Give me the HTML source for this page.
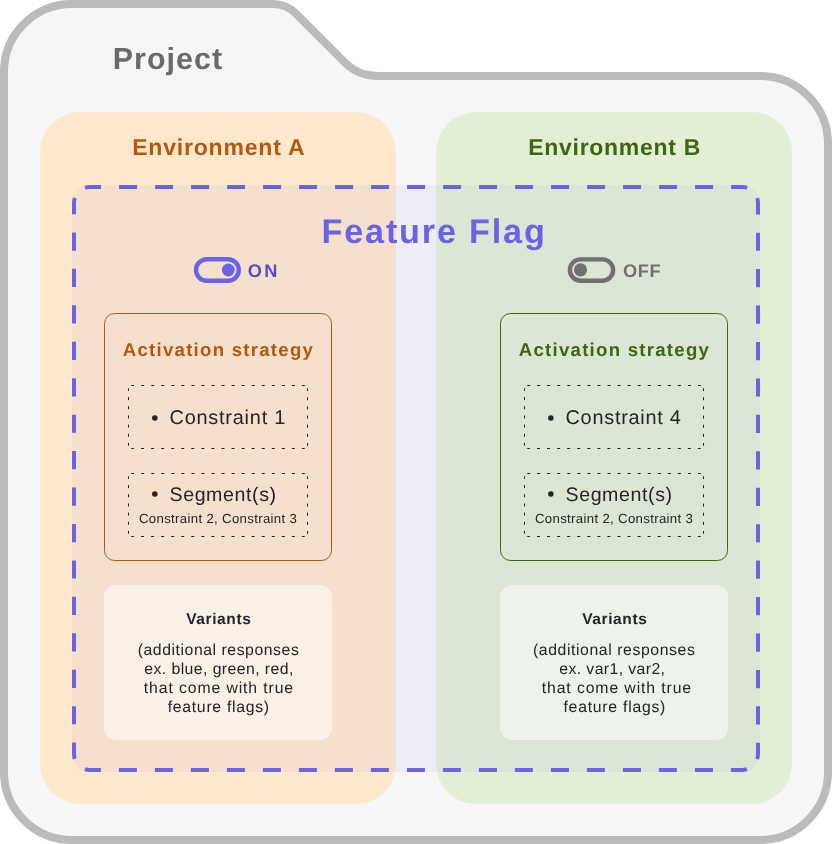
<!DOCTYPE html>
<html><head><meta charset="utf-8"><title>Feature flag diagram</title><style>
html,body{margin:0;padding:0;background:#fff;width:832px;height:844px;overflow:hidden}
svg{display:block;will-change:transform}
text{font-family:"Liberation Sans", sans-serif;white-space:pre;text-rendering:geometricPrecision}
</style></head><body>
<svg width="832" height="844" viewBox="0 0 832 844">
<path d="M4 72 A68 68 0 0 1 72 4 H273.05 A32 32 0 0 1 295.67 13.37 L344.83 62.53 A46 46 0 0 0 377.35 76 H760 A68 68 0 0 1 828 144 V772 A68 68 0 0 1 760 840 H72 A68 68 0 0 1 4 772 Z" fill="#f6f6f9" stroke="#bbbbbd" stroke-width="8"/>
<rect x="40" y="112" width="356" height="692" rx="40" fill="#fde8cc"/>
<rect x="436" y="112" width="356" height="692" rx="40" fill="#e3efd5"/>
<rect x="72" y="185" width="688" height="587" rx="18" fill="#6c63e4" fill-opacity="0.06"/>
<path d="M78.69 191.69 A16 16 0 0 1 90 187 H742 A16 16 0 0 1 753.31 191.69" fill="none" stroke="#6c63e4" stroke-width="4" stroke-dasharray="0.00 7.48 16.09 18.00 18.00 18.00 18.00 18.00 18.00 18.00 18.00 18.00 18.00 18.00 18.00 18.00 18.00 18.00 18.00 18.00 18.00 18.00 18.00 18.00 18.00 18.00 18.00 18.00 18.00 18.00 18.00 18.00 18.00 18.00 18.00 18.00 18.00 18.00 16.09 1000.00"/>
<path d="M753.31 191.69 A16 16 0 0 1 758 203 V754 A16 16 0 0 1 753.31 765.31" fill="none" stroke="#6c63e4" stroke-width="4" stroke-dasharray="0.00 7.48 16.41 18.22 18.22 18.22 18.22 18.22 18.22 18.22 18.22 18.22 18.22 18.22 18.22 18.22 18.22 18.22 18.22 18.22 18.22 18.22 18.22 18.22 18.22 18.22 18.22 18.22 18.22 18.22 18.22 18.22 16.41 1000.00"/>
<path d="M753.31 765.31 A16 16 0 0 1 742 770 H90 A16 16 0 0 1 78.69 765.31" fill="none" stroke="#6c63e4" stroke-width="4" stroke-dasharray="0.00 7.48 16.09 18.00 18.00 18.00 18.00 18.00 18.00 18.00 18.00 18.00 18.00 18.00 18.00 18.00 18.00 18.00 18.00 18.00 18.00 18.00 18.00 18.00 18.00 18.00 18.00 18.00 18.00 18.00 18.00 18.00 18.00 18.00 18.00 18.00 18.00 18.00 16.09 1000.00"/>
<path d="M78.69 765.31 A16 16 0 0 1 74 754 V203 A16 16 0 0 1 78.69 191.69" fill="none" stroke="#6c63e4" stroke-width="4" stroke-dasharray="0.00 7.48 16.41 18.22 18.22 18.22 18.22 18.22 18.22 18.22 18.22 18.22 18.22 18.22 18.22 18.22 18.22 18.22 18.22 18.22 18.22 18.22 18.22 18.22 18.22 18.22 18.22 18.22 18.22 18.22 18.22 18.22 16.41 1000.00"/>
<rect x="104.5" y="313.5" width="227" height="247" rx="10" fill="none" stroke="#b5570f" stroke-width="1"/>
<rect x="500.5" y="313.5" width="227" height="247" rx="10" fill="none" stroke="#3e6611" stroke-width="1"/>
<path d="M129.38 386.38 A3 3 0 0 1 131.5 385.5 H304.5 A3 3 0 0 1 306.62 386.38" fill="none" stroke="#242427" stroke-width="1" stroke-dasharray="0.00 1.85 3.00 7.06 3.00 7.06 3.00 7.06 3.00 7.06 3.00 7.06 3.00 7.06 3.00 7.06 3.00 7.06 3.00 7.06 3.00 7.06 3.00 7.06 3.00 7.06 3.00 7.06 3.00 7.06 3.00 7.06 3.00 7.06 3.00 7.06 3.00 1000.00"/>
<path d="M306.62 386.38 A3 3 0 0 1 307.5 388.5 V445.5 A3 3 0 0 1 306.62 447.62" fill="none" stroke="#242427" stroke-width="1" stroke-dasharray="0.00 1.85 3.00 6.17 3.00 6.17 3.00 6.17 3.00 6.17 3.00 6.17 3.00 6.17 3.00 1000.00"/>
<path d="M306.62 447.62 A3 3 0 0 1 304.5 448.5 H131.5 A3 3 0 0 1 129.38 447.62" fill="none" stroke="#242427" stroke-width="1" stroke-dasharray="0.00 1.85 3.00 7.06 3.00 7.06 3.00 7.06 3.00 7.06 3.00 7.06 3.00 7.06 3.00 7.06 3.00 7.06 3.00 7.06 3.00 7.06 3.00 7.06 3.00 7.06 3.00 7.06 3.00 7.06 3.00 7.06 3.00 7.06 3.00 7.06 3.00 1000.00"/>
<path d="M129.38 447.62 A3 3 0 0 1 128.5 445.5 V388.5 A3 3 0 0 1 129.38 386.38" fill="none" stroke="#242427" stroke-width="1" stroke-dasharray="0.00 1.85 3.00 6.17 3.00 6.17 3.00 6.17 3.00 6.17 3.00 6.17 3.00 6.17 3.00 1000.00"/>
<path d="M129.38 474.38 A3 3 0 0 1 131.5 473.5 H304.5 A3 3 0 0 1 306.62 474.38" fill="none" stroke="#242427" stroke-width="1" stroke-dasharray="0.00 1.85 3.00 7.06 3.00 7.06 3.00 7.06 3.00 7.06 3.00 7.06 3.00 7.06 3.00 7.06 3.00 7.06 3.00 7.06 3.00 7.06 3.00 7.06 3.00 7.06 3.00 7.06 3.00 7.06 3.00 7.06 3.00 7.06 3.00 7.06 3.00 1000.00"/>
<path d="M306.62 474.38 A3 3 0 0 1 307.5 476.5 V533.5 A3 3 0 0 1 306.62 535.62" fill="none" stroke="#242427" stroke-width="1" stroke-dasharray="0.00 1.85 3.00 6.17 3.00 6.17 3.00 6.17 3.00 6.17 3.00 6.17 3.00 6.17 3.00 1000.00"/>
<path d="M306.62 535.62 A3 3 0 0 1 304.5 536.5 H131.5 A3 3 0 0 1 129.38 535.62" fill="none" stroke="#242427" stroke-width="1" stroke-dasharray="0.00 1.85 3.00 7.06 3.00 7.06 3.00 7.06 3.00 7.06 3.00 7.06 3.00 7.06 3.00 7.06 3.00 7.06 3.00 7.06 3.00 7.06 3.00 7.06 3.00 7.06 3.00 7.06 3.00 7.06 3.00 7.06 3.00 7.06 3.00 7.06 3.00 1000.00"/>
<path d="M129.38 535.62 A3 3 0 0 1 128.5 533.5 V476.5 A3 3 0 0 1 129.38 474.38" fill="none" stroke="#242427" stroke-width="1" stroke-dasharray="0.00 1.85 3.00 6.17 3.00 6.17 3.00 6.17 3.00 6.17 3.00 6.17 3.00 6.17 3.00 1000.00"/>
<path d="M525.38 386.38 A3 3 0 0 1 527.5 385.5 H700.5 A3 3 0 0 1 702.62 386.38" fill="none" stroke="#242427" stroke-width="1" stroke-dasharray="0.00 1.85 3.00 7.06 3.00 7.06 3.00 7.06 3.00 7.06 3.00 7.06 3.00 7.06 3.00 7.06 3.00 7.06 3.00 7.06 3.00 7.06 3.00 7.06 3.00 7.06 3.00 7.06 3.00 7.06 3.00 7.06 3.00 7.06 3.00 7.06 3.00 1000.00"/>
<path d="M702.62 386.38 A3 3 0 0 1 703.5 388.5 V445.5 A3 3 0 0 1 702.62 447.62" fill="none" stroke="#242427" stroke-width="1" stroke-dasharray="0.00 1.85 3.00 6.17 3.00 6.17 3.00 6.17 3.00 6.17 3.00 6.17 3.00 6.17 3.00 1000.00"/>
<path d="M702.62 447.62 A3 3 0 0 1 700.5 448.5 H527.5 A3 3 0 0 1 525.38 447.62" fill="none" stroke="#242427" stroke-width="1" stroke-dasharray="0.00 1.85 3.00 7.06 3.00 7.06 3.00 7.06 3.00 7.06 3.00 7.06 3.00 7.06 3.00 7.06 3.00 7.06 3.00 7.06 3.00 7.06 3.00 7.06 3.00 7.06 3.00 7.06 3.00 7.06 3.00 7.06 3.00 7.06 3.00 7.06 3.00 1000.00"/>
<path d="M525.38 447.62 A3 3 0 0 1 524.5 445.5 V388.5 A3 3 0 0 1 525.38 386.38" fill="none" stroke="#242427" stroke-width="1" stroke-dasharray="0.00 1.85 3.00 6.17 3.00 6.17 3.00 6.17 3.00 6.17 3.00 6.17 3.00 6.17 3.00 1000.00"/>
<path d="M525.38 474.38 A3 3 0 0 1 527.5 473.5 H700.5 A3 3 0 0 1 702.62 474.38" fill="none" stroke="#242427" stroke-width="1" stroke-dasharray="0.00 1.85 3.00 7.06 3.00 7.06 3.00 7.06 3.00 7.06 3.00 7.06 3.00 7.06 3.00 7.06 3.00 7.06 3.00 7.06 3.00 7.06 3.00 7.06 3.00 7.06 3.00 7.06 3.00 7.06 3.00 7.06 3.00 7.06 3.00 7.06 3.00 1000.00"/>
<path d="M702.62 474.38 A3 3 0 0 1 703.5 476.5 V533.5 A3 3 0 0 1 702.62 535.62" fill="none" stroke="#242427" stroke-width="1" stroke-dasharray="0.00 1.85 3.00 6.17 3.00 6.17 3.00 6.17 3.00 6.17 3.00 6.17 3.00 6.17 3.00 1000.00"/>
<path d="M702.62 535.62 A3 3 0 0 1 700.5 536.5 H527.5 A3 3 0 0 1 525.38 535.62" fill="none" stroke="#242427" stroke-width="1" stroke-dasharray="0.00 1.85 3.00 7.06 3.00 7.06 3.00 7.06 3.00 7.06 3.00 7.06 3.00 7.06 3.00 7.06 3.00 7.06 3.00 7.06 3.00 7.06 3.00 7.06 3.00 7.06 3.00 7.06 3.00 7.06 3.00 7.06 3.00 7.06 3.00 7.06 3.00 1000.00"/>
<path d="M525.38 535.62 A3 3 0 0 1 524.5 533.5 V476.5 A3 3 0 0 1 525.38 474.38" fill="none" stroke="#242427" stroke-width="1" stroke-dasharray="0.00 1.85 3.00 6.17 3.00 6.17 3.00 6.17 3.00 6.17 3.00 6.17 3.00 6.17 3.00 1000.00"/>
<rect x="104" y="585" width="228" height="155" rx="12" fill="#ffffff" fill-opacity="0.5"/>
<rect x="500" y="585" width="228" height="155" rx="12" fill="#ffffff" fill-opacity="0.5"/>
<circle cx="154.85" cy="418" r="2.8" fill="#242427"/>
<circle cx="154.85" cy="494" r="2.8" fill="#242427"/>
<circle cx="550.85" cy="418" r="2.8" fill="#242427"/>
<circle cx="550.85" cy="494" r="2.8" fill="#242427"/>
<rect x="196" y="259.2" width="42.8" height="21.6" rx="10.8" fill="none" stroke="#6c63e4" stroke-width="4.4"/>
<circle cx="228.3" cy="270" r="6.4" fill="#6c63e4"/>
<rect x="569.9" y="259.4" width="43.2" height="21.4" rx="10.7" fill="none" stroke="#707070" stroke-width="4.4"/>
<circle cx="580.5" cy="269.8" r="6.6" fill="#707070"/>
<text x="112.80" y="69.00" font-size="30.4" font-weight="700" fill="#6a6a6c" textLength="109.20" lengthAdjust="spacing">Project</text>
<text x="132.20" y="155.00" font-size="23.0" font-weight="700" fill="#b5570f" textLength="172.44" lengthAdjust="spacing">Environment A</text>
<text x="528.20" y="155.00" font-size="23.0" font-weight="700" fill="#3e6611" textLength="172.23" lengthAdjust="spacing">Environment B</text>
<text x="321.50" y="242.60" font-size="34.2" font-weight="700" fill="#6c63e4" textLength="223.34" lengthAdjust="spacing">Feature Flag</text>
<text x="247.83" y="276.70" font-size="18.2" font-weight="700" fill="#544dc6" textLength="29.60" lengthAdjust="spacing">ON</text>
<text x="623.07" y="276.80" font-size="18.2" font-weight="700" fill="#707070" textLength="37.56" lengthAdjust="spacing">OFF</text>
<text x="122.75" y="355.80" font-size="18.6" font-weight="700" fill="#b5570f" textLength="190.10" lengthAdjust="spacing">Activation strategy</text>
<text x="169.50" y="424.00" font-size="19.9" font-weight="400" fill="#242427" textLength="115.83" lengthAdjust="spacing">Constraint 1</text>
<text x="169.48" y="500.60" font-size="19.6" font-weight="400" fill="#242427" textLength="106.60" lengthAdjust="spacing">Segment(s)</text>
<text x="138.99" y="523.40" font-size="13.2" font-weight="400" fill="#242427" textLength="157.88" lengthAdjust="spacing">Constraint 2, Constraint 3</text>
<text x="186.17" y="623.80" font-size="15.5" font-weight="700" fill="#242427" textLength="64.68" lengthAdjust="spacing">Variants</text>
<text x="518.75" y="355.80" font-size="18.6" font-weight="700" fill="#3e6611" textLength="190.10" lengthAdjust="spacing">Activation strategy</text>
<text x="565.50" y="424.00" font-size="19.9" font-weight="400" fill="#242427" textLength="115.41" lengthAdjust="spacing">Constraint 4</text>
<text x="565.48" y="500.60" font-size="19.6" font-weight="400" fill="#242427" textLength="106.60" lengthAdjust="spacing">Segment(s)</text>
<text x="534.99" y="523.40" font-size="13.2" font-weight="400" fill="#242427" textLength="157.88" lengthAdjust="spacing">Constraint 2, Constraint 3</text>
<text x="582.17" y="623.80" font-size="15.5" font-weight="700" fill="#242427" textLength="64.68" lengthAdjust="spacing">Variants</text>
<text x="137.70" y="655.00" font-size="15.8" font-weight="400" fill="#242427" textLength="161.11" lengthAdjust="spacing">(additional responses</text>
<text x="144.26" y="674.00" font-size="15.8" font-weight="400" fill="#242427" textLength="149.10" lengthAdjust="spacing">ex. blue, green, red,</text>
<text x="143.81" y="693.00" font-size="15.8" font-weight="400" fill="#242427" textLength="149.35" lengthAdjust="spacing">that come with true</text>
<text x="167.68" y="712.00" font-size="15.8" font-weight="400" fill="#242427" textLength="101.46" lengthAdjust="spacing">feature flags)</text>
<text x="533.00" y="655.00" font-size="15.8" font-weight="400" fill="#242427" textLength="161.82" lengthAdjust="spacing">(additional responses</text>
<text x="559.29" y="674.00" font-size="15.8" font-weight="400" fill="#242427" textLength="105.69" lengthAdjust="spacing">ex. var1, var2,</text>
<text x="541.75" y="693.00" font-size="15.8" font-weight="400" fill="#242427" textLength="149.38" lengthAdjust="spacing">that come with true</text>
<text x="563.49" y="712.00" font-size="15.8" font-weight="400" fill="#242427" textLength="101.90" lengthAdjust="spacing">feature flags)</text>
</svg>
</body></html>
